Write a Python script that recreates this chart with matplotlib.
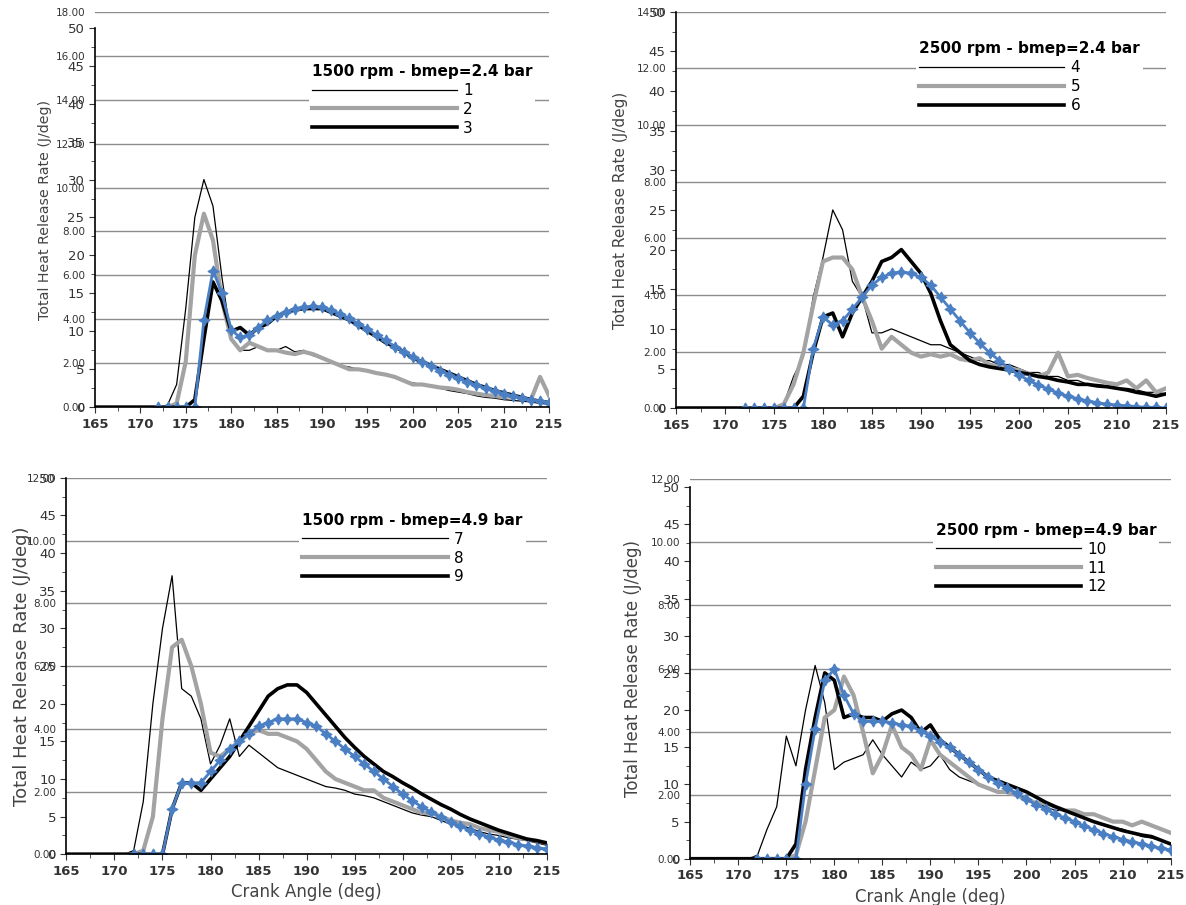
import matplotlib
matplotlib.use("Agg")
import matplotlib.pyplot as plt
from matplotlib.ticker import MultipleLocator, FixedLocator

# crank angle grid
crank = list(range(165, 216))
crank_blue = list(range(172, 216))

# 1500 rpm - bmep=2.4 bar
s1 = [0]*8 + [0.3, 3, 13, 25, 30, 26.5, 17, 9, 7.5, 7.5, 8, 7.5, 7.5, 8, 7.3, 7.5, 6.8, 6.5,
              6, 5.5, 5.3, 5, 4.8, 4.5, 4.2, 4, 3.5, 3.2, 3, 2.8, 2.5, 2.2, 2, 1.8, 1.5, 1.3,
              1.2, 1, 0.9, 0.8, 0.7, 0.5, 0.4]
s2 = [0]*9 + [0.5, 6, 20, 25.5, 22, 14, 9, 7.5, 8.5, 8, 7.5, 7.5, 7.2, 7, 7.3, 7, 6.5, 6,
              5.5, 5, 5, 4.8, 4.5, 4.3, 4, 3.5, 3, 3, 2.8, 2.6, 2.5, 2.3, 2, 1.8, 1.6, 1.5,
              1.3, 1.5, 1.2, 1, 4, 1.5]
s3 = [0]*11 + [1, 9, 16.5, 14, 10, 10.5, 9.5, 10.5, 11, 12, 12.5, 12.8, 13, 13, 13, 12.5,
               12, 11.5, 10.8, 10, 9.3, 8.5, 8, 7.3, 6.5, 6, 5.5, 5, 4.5, 4, 3.5, 3, 2.6, 2.2,
               1.9, 1.6, 1.3, 1, 0.8, 0.6]
b1 = [0]*5 + [11.5, 18, 15, 10.2, 9.2, 9.5, 10.5, 11.5, 12, 12.5, 13, 13.2, 13.3, 13.2, 12.8,
              12.3, 11.7, 11, 10.3, 9.5, 8.8, 8, 7.3, 6.6, 6, 5.4, 4.8, 4.3, 3.8, 3.3, 2.9,
              2.5, 2.1, 1.8, 1.5, 1.2, 1, 0.8, 0.6]

# 2500 rpm - bmep=2.4 bar
s4 = [0]*11 + [0.5, 4, 6.5, 14, 19, 25, 22.5, 16, 14, 9.5, 9.5, 10, 9.5, 9, 8.5, 8, 8, 7.5,
               7, 6.5, 6, 6, 5.5, 5.5, 5, 4.5, 4.5, 4, 4, 3.5, 3.5, 3, 3, 2.8, 2.5, 2.5, 2.3,
               2, 2, 1.8]
s5 = [0]*11 + [0.5, 3, 7, 13, 18.5, 19, 19, 17.5, 14, 11, 7.5, 9, 8, 7, 6.5, 6.8, 6.5, 6.8,
               6.2, 6, 6.3, 5.5, 5.2, 5, 4.8, 4.3, 4, 4.5, 7, 4, 4.2, 3.8, 3.5, 3.2, 3, 3.5,
               2.5, 3.5, 2, 2.5]
s6 = [0]*13 + [1.5, 7, 11.5, 12, 9, 12, 14, 16, 18.5, 19, 20, 18.5, 17, 14.5, 11, 8, 7, 6,
               5.5, 5.2, 5, 4.8, 4.5, 4.3, 4, 3.8, 3.5, 3.3, 3, 3, 2.8, 2.7, 2.5, 2.3, 2, 1.8,
               1.5, 1.8]
b2 = [0]*7 + [7.5, 11.5, 10.5, 11, 12.5, 14, 15.5, 16.5, 17, 17.2, 17, 16.5, 15.5, 14, 12.5,
              11, 9.5, 8.2, 7, 6, 5, 4.2, 3.5, 2.9, 2.4, 1.9, 1.5, 1.2, 0.9, 0.7, 0.5, 0.4,
              0.3, 0.2, 0.1, 0.1, 0]

# 1500 rpm - bmep=4.9 bar
s7 = [0]*7 + [0.5, 7, 20, 30, 37, 22, 21, 18, 12, 14.5, 18, 13, 14.5, 13.5, 12.5, 11.5, 11,
              10.5, 10, 9.5, 9, 8.8, 8.5, 8, 7.8, 7.5, 7, 6.5, 6, 5.5, 5.2, 5, 4.5, 4, 3.8,
              3.5, 3, 2.7, 2.5, 2.2, 2, 1.8, 1.5, 1.2]
s8 = [0]*8 + [0.5, 5, 18, 27.5, 28.5, 25, 20, 13.5, 13, 14, 15, 16, 16.5, 16, 16, 15.5, 15,
              14, 12.5, 11, 10, 9.5, 9, 8.5, 8.5, 7.5, 7, 6.5, 6, 5.5, 5.5, 5, 4.5, 4.2, 4,
              3.5, 3.2, 3, 2.5, 2.2, 2, 1.8, 1.5]
s9 = [0]*11 + [6, 9.5, 9.5, 8.5, 10, 11.5, 13, 15, 17, 19, 21, 22, 22.5, 22.5, 21.5, 20, 18.5,
               17, 15.5, 14.2, 13, 12, 11, 10.3, 9.5, 8.8, 8, 7.3, 6.6, 6, 5.3, 4.7, 4.2, 3.7,
               3.2, 2.8, 2.4, 2, 1.8, 1.5]
b3 = [0]*4 + [6, 9.5, 9.5, 9.5, 11, 12.5, 14, 15, 16, 17, 17.5, 18, 18, 18, 17.5, 17, 16, 15,
              14, 13, 12, 11, 10, 9, 8, 7.1, 6.3, 5.6, 4.9, 4.3, 3.7, 3.2, 2.7, 2.3, 1.9, 1.6,
              1.3, 1.1, 0.9, 0.7]

# 2500 rpm - bmep=4.9 bar
s10 = [0]*7 + [0.5, 4, 7, 16.5, 12.5, 20, 26, 21, 12, 13, 13.5, 14, 16, 14, 12.5, 11, 13, 12,
               12.5, 14, 12, 11, 10.5, 10, 9.5, 9, 9, 8.5, 8, 7.5, 7, 6.5, 6.5, 6, 5.5, 5, 4.5,
               4.2, 4, 3.5, 3, 2.8, 2.5, 2]
s11 = [0]*11 + [0.5, 5, 12, 19, 20, 24.5, 22, 17, 11.5, 14, 18, 15, 14, 12, 16, 14, 13, 12, 11,
                10, 9.5, 9, 9, 8.5, 8, 7.5, 7.5, 7, 6.5, 6.5, 6, 6, 5.5, 5, 5, 4.5, 5, 4.5, 4,
                3.5]
s12 = [0]*11 + [2, 12, 19, 25, 24, 19, 19.5, 19, 19, 18.5, 19.5, 20, 19, 17, 18, 16, 15, 14,
                13, 12, 11, 10.5, 10, 9.5, 9, 8.3, 7.6, 7, 6.5, 6, 5.5, 5, 4.6, 4.2, 3.8, 3.5,
                3.2, 3, 2.5, 2]
b4 = [0]*5 + [10, 17.5, 24, 25.5, 22, 19.5, 18.5, 18.5, 18.5, 18.3, 18, 17.8, 17.2, 16.5, 15.7,
              15, 14, 13, 12, 11, 10.2, 9.5, 8.8, 8, 7.3, 6.7, 6, 5.5, 5, 4.4, 3.9, 3.4, 3,
              2.6, 2.3, 2, 1.7, 1.4, 1.2]

titles = ["1500 rpm - bmep=2.4 bar", "2500 rpm - bmep=2.4 bar",
          "1500 rpm - bmep=4.9 bar", "2500 rpm - bmep=4.9 bar"]
labels = [["1", "2", "3"], ["4", "5", "6"], ["7", "8", "9"], ["10", "11", "12"]]
series = [(s1, s2, s3, b1), (s4, s5, s6, b2), (s7, s8, s9, b3), (s10, s11, s12, b4)]
sec_max = [18, 14, 12, 12]

# panel layout: rect, primary top, legend anchor, ylabel size, ylabel pad
panels = [
    ([0.080, 0.550, 0.383, 0.437], 52.1, (0.254, 0.941), 10.2, 11),
    ([0.570, 0.549, 0.413, 0.438], 50.0, (0.766, 0.966), 11.0, 15),
    ([0.056, 0.056, 0.405, 0.416], 50.0, (0.246, 0.445), 13.0, 6),
    ([0.582, 0.051, 0.405, 0.420], 51.1, (0.780, 0.434), 12.0, 15),
]

fig = plt.figure(figsize=(11.86, 9.05), dpi=100)
blue = "#4a7fc4"
gray = "#a3a3a3"

for i, (rect, ptop, legpos, ylsize, ylpad) in enumerate(panels):
    ax = fig.add_axes(rect)
    ax2 = ax.twinx()
    ax2.set_ylim(0, sec_max[i])
    ax2.yaxis.set_major_locator(MultipleLocator(2))
    ax2.yaxis.tick_left()
    ax2.tick_params(axis="y", length=0, pad=7, labelsize=7.5, colors="#333333")
    ax2.set_yticklabels(["%.2f" % v for v in ax2.get_yticks()])
    ax2.grid(axis="y", color="#8c8c8c", linewidth=1)
    for sp in ax2.spines.values():
        sp.set_visible(False)

    ax.set_zorder(ax2.get_zorder() + 1)
    ax.patch.set_visible(False)

    thin, gr, blk, bl = series[i]
    l1, = ax.plot(crank, thin, color="black", linewidth=0.9)
    l2, = ax.plot(crank, gr, color=gray, linewidth=3)
    l3, = ax.plot(crank, blk, color="black", linewidth=2.6)
    ax.plot(crank_blue, bl, color=blue, linewidth=2, marker=(4, 1, 0),
            markersize=8, markeredgewidth=0.8)

    ax.set_xlim(165, 215)
    ax.set_ylim(0, ptop)
    ax.xaxis.set_major_locator(MultipleLocator(5))
    ax.xaxis.set_minor_locator(MultipleLocator(2.5))
    ax.yaxis.set_major_locator(FixedLocator(range(0, 51, 5)))
    ax.yaxis.set_minor_locator(FixedLocator([k + 2.5 for k in range(0, 50, 5)]))
    ax.tick_params(axis="both", which="major", direction="out", length=4,
                   labelsize=9.5, colors="#333333")
    ax.tick_params(axis="both", which="minor", direction="out", length=3, colors="#333333")
    for t in ax.get_xticklabels():
        t.set_fontweight("bold")
    ax.spines["top"].set_visible(False)
    ax.spines["right"].set_visible(False)
    ax.spines["left"].set_bounds(0, 50)
    ax.spines["left"].set_linewidth(1.2)
    ax.spines["bottom"].set_linewidth(1.2)

    ax.set_ylabel("Total Heat Release Rate (J/deg)", fontsize=ylsize, color="#444444",
                  labelpad=ylpad)
    if i >= 2:
        ax.set_xlabel("Crank Angle (deg)", fontsize=12, color="#444444", labelpad=4)

    leg = ax.legend([l1, l2, l3], labels[i], title=titles[i], loc="upper left",
                    bbox_to_anchor=legpos, bbox_transform=fig.transFigure,
                    frameon=True, fancybox=False, edgecolor="none", facecolor="white",
                    framealpha=1, fontsize=11, handlelength=9.5, handletextpad=0.4,
                    labelspacing=0.25, borderpad=0.2, alignment="left",
                    title_fontproperties={"weight": "bold", "size": 11})

fig.savefig("out.png", dpi=100)
